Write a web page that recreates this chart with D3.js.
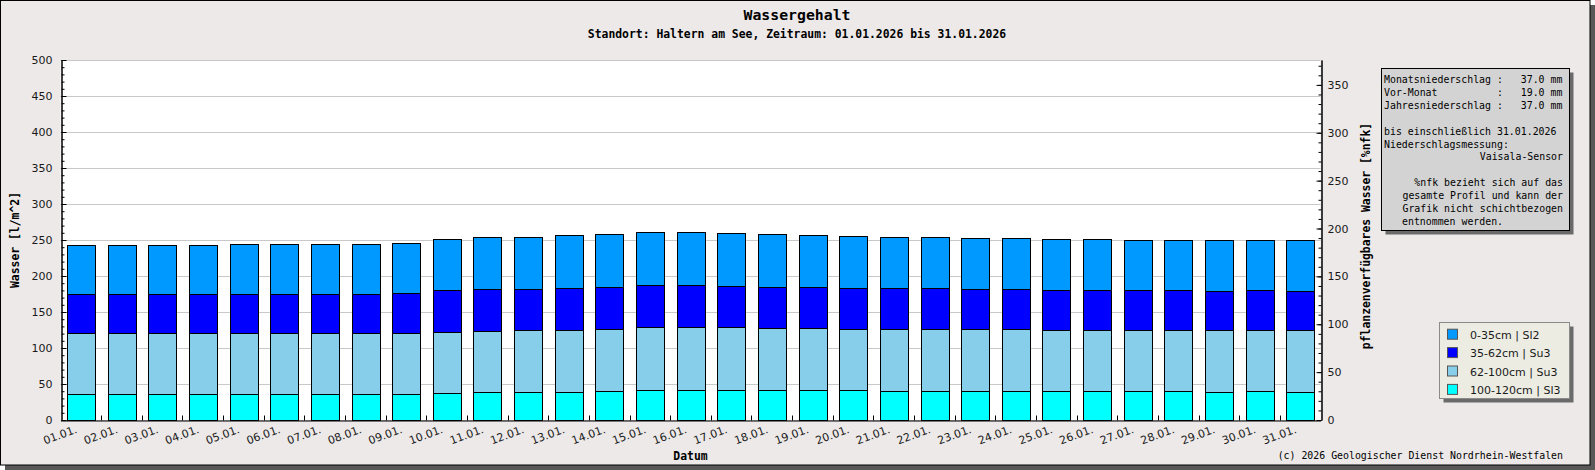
<!DOCTYPE html>
<html>
<head>
<meta charset="utf-8">
<title>Wassergehalt</title>
<script src="https://cdn.jsdelivr.net/npm/d3@7"></script>
<style>
  body { margin: 0; background: #fff; }
  svg { display: block; }
  .mono { font-family: "DejaVu Sans Mono", "Liberation Mono", monospace; white-space: pre; }
  .sans { font-family: "DejaVu Sans", sans-serif; }
</style>
</head>
<body>
<svg id="drawing_region"></svg>
<script>
// Tage (Kategorien)
const days = ['01.01.','02.01.','03.01.','04.01.','05.01.','06.01.','07.01.','08.01.','09.01.','10.01.',
              '11.01.','12.01.','13.01.','14.01.','15.01.','16.01.','17.01.','18.01.','19.01.','20.01.',
              '21.01.','22.01.','23.01.','24.01.','25.01.','26.01.','27.01.','28.01.','29.01.','30.01.','31.01.'];

// Wasser je Schicht [l/m^2]
const layer0_35 = [68.1,68.1,68.1,68.1,69.5,69.5,69.5,69.5,69.4,71.8,72.2,72.2,73.6,73.6,73.6,73.6,
                   73.7,73.6,72.2,72.2,70.8,70.8,70.8,70.8,70.8,70.8,69.4,69.4,70.8,69.4,70.8];
const layer35_62 = [53.2,53.2,53.2,53.2,53.2,53.2,53.2,53.2,54.7,57.4,57.4,56.0,57.4,57.4,57.4,57.4,
                    56.0,56.1,56.1,56.0,56.0,56.0,54.6,54.6,54.6,54.6,54.6,54.6,53.2,54.6,53.2];
const layer62_100 = [85.7,85.7,85.7,85.7,85.7,85.7,85.7,85.7,85.7,85.7,85.7,87.1,87.1,87.1,88.4,88.4,
                     88.4,87.0,87.0,85.7,87.1,87.1,87.1,87.1,85.7,85.7,85.7,85.7,87.1,85.7,87.1];
const layer100_120 = [35.6,35.6,35.6,35.6,35.6,35.6,35.6,35.6,35.6,37.0,38.4,38.4,38.4,39.8,41.2,41.2,
                      41.2,41.2,41.2,41.2,39.8,39.8,39.8,39.8,39.8,39.8,39.8,39.8,38.4,39.8,38.4];

// Legende (von oben nach unten)
const layerNames = ['0-35cm | Sl2', '35-62cm | Su3', '62-100cm | Su3', '100-120cm | Sl3'];
const layerColors = ['#0099ff', '#0000ff', '#87ceeb', '#00ffff'];

// Achsen
const leftTicks = [0, 50, 100, 150, 200, 250, 300, 350, 400, 450, 500];
const rightTicks = [0, 50, 100, 150, 200, 250, 300, 350];
const leftMax = 500;
const rightMax = 376;

// Infobox
const infoLines = [
    ['Monatsniederschlag :   37.0 mm', 'start'],
    ['Vor-Monat          :   19.0 mm', 'start'],
    ['Jahresniederschlag :   37.0 mm', 'start'],
    ['', 'start'],
    ['bis einschließlich 31.01.2026', 'start'],
    ['Niederschlagsmessung:', 'start'],
    ['Vaisala-Sensor', 'end'],
    ['', 'start'],
    ['%nfk bezieht sich auf das', 'end'],
    ['gesamte Profil und kann der', 'end'],
    ['Grafik nicht schichtbezogen', 'end'],
    ['entnommen werden.', 'indent']
];

class StackedChart {

    constructor( config ) {
        this.config = config;
        this.init();
    }

    init() {
        let self = this;
        const c = self.config;

        self.svg = d3.select( c.parent )
            .attr('width', c.width)
            .attr('height', c.height);

        // Rahmen mit Schatten
        self.svg.append('rect')
            .attr('x', 5).attr('y', 5)
            .attr('width', c.width - 5).attr('height', c.height - 5)
            .attr('fill', '#585858');
        self.svg.append('rect')
            .attr('x', 0.5).attr('y', 0.5)
            .attr('width', c.width - 5.5).attr('height', c.height - 5.5)
            .attr('fill', '#ece9e8')
            .attr('stroke', '#000');

        self.left = c.plot.left;
        self.right = c.plot.right;
        self.top = c.plot.top;
        self.bottom = c.plot.bottom;

        self.svg.append('rect')
            .attr('x', self.left).attr('y', self.top)
            .attr('width', self.right - self.left)
            .attr('height', self.bottom - self.top)
            .attr('fill', '#fff');

        self.xscale = d3.scaleBand()
            .domain(days)
            .range([self.left, self.right])
            .paddingInner(0.32)
            .paddingOuter(0.16);

        self.yscale = d3.scaleLinear()
            .domain([0, leftMax])
            .range([self.bottom, self.top]);

        self.y2scale = d3.scaleLinear()
            .domain([0, rightMax])
            .range([self.bottom, self.top]);

        self.grid = self.svg.append('g');
        self.chart = self.svg.append('g');
        self.axes = self.svg.append('g');
        self.texts = self.svg.append('g');
    }

    update() {
        let self = this;
        self.series = d3.stack()
            .keys([3, 2, 1, 0])
            .value((d, k) => d[k])(
                days.map((day, i) => ({ 0: layer0_35[i], 1: layer35_62[i], 2: layer62_100[i], 3: layer100_120[i], day: day }))
            );
        self.render();
    }

    render() {
        let self = this;

        // Gitterlinien
        self.grid.selectAll('line').data(leftTicks).enter()
            .append('line')
            .attr('x1', self.left).attr('x2', self.right)
            .attr('y1', d => Math.round(self.yscale(d)) + 0.5)
            .attr('y2', d => Math.round(self.yscale(d)) + 0.5)
            .attr('stroke', '#c8c8c8');

        // Balken
        self.chart.selectAll('g').data(self.series).enter()
            .append('g')
            .attr('fill', d => layerColors[d.key])
            .selectAll('rect').data(d => d).enter()
            .append('rect')
            .attr('x', d => Math.round(self.xscale(d.data.day)) + 0.5)
            .attr('y', d => Math.round(self.yscale(d[1])) + 0.5)
            .attr('width', Math.round(self.xscale.bandwidth()))
            .attr('height', d => Math.round(self.yscale(d[0])) - Math.round(self.yscale(d[1])))
            .attr('stroke', '#000')
            .attr('stroke-width', 1);

        // linke Achse
        const yaxis = d3.axisLeft(self.yscale)
            .tickValues(leftTicks).tickSize(-5).tickSizeOuter(0).tickPadding(9);
        const yminor = d3.axisLeft(self.yscale)
            .tickValues(d3.range(0, leftMax + 1, 10)).tickSize(-3).tickSizeOuter(0).tickFormat('');
        self.axes.append('g').attr('transform', `translate(${Math.round(self.left) + 0.5},0)`).call(yminor);
        self.axes.append('g').attr('transform', `translate(${Math.round(self.left) + 0.5},0)`).call(yaxis);

        // rechte Achse
        const y2axis = d3.axisRight(self.y2scale)
            .tickValues(rightTicks).tickSize(-5).tickSizeOuter(0).tickPadding(6);
        const y2minor = d3.axisRight(self.y2scale)
            .tickValues(d3.range(0, rightMax, 10)).tickSize(-3).tickSizeOuter(0).tickFormat('');
        self.axes.append('g').attr('transform', `translate(${Math.round(self.right) + 0.5},0)`).call(y2minor);
        self.axes.append('g').attr('transform', `translate(${Math.round(self.right) + 0.5},0)`).call(y2axis);

        // untere Achse
        const xaxis = d3.axisBottom(self.xscale).tickSize(0).tickSizeOuter(0).tickPadding(0);
        const xg = self.axes.append('g')
            .attr('transform', `translate(0,${Math.round(self.bottom) + 0.5})`)
            .call(xaxis);
        xg.selectAll('.tick text')
            .attr('text-anchor', 'end')
            .attr('dy', 0)
            .attr('transform', 'translate(-3,12) rotate(-20)');
        const gap = (self.xscale.step() - self.xscale.bandwidth()) / 2;
        xg.selectAll('.sep').data(days.slice(1)).enter()
            .append('line')
            .attr('x1', d => Math.round(self.xscale(d) - gap) + 0.5)
            .attr('x2', d => Math.round(self.xscale(d) - gap) + 0.5)
            .attr('y1', 0).attr('y2', -5)
            .attr('stroke', '#000');

        self.axes.selectAll('.domain').attr('stroke', '#000');
        self.axes.selectAll('.tick line').attr('stroke', '#000');
        self.axes.selectAll('.tick text')
            .attr('class', 'sans')
            .attr('font-size', '11px')
            .attr('fill', '#1a1a1a');

        // Titel
        self.texts.append('text').attr('class', 'mono')
            .attr('x', 797).attr('y', 20)
            .attr('text-anchor', 'middle')
            .attr('font-size', '14.8px').attr('font-weight', 'bold')
            .text('Wassergehalt');
        self.texts.append('text').attr('class', 'mono')
            .attr('x', 797).attr('y', 38)
            .attr('text-anchor', 'middle')
            .attr('font-size', '11.4px').attr('font-weight', 'bold')
            .text('Standort: Haltern am See, Zeitraum: 01.01.2026 bis 31.01.2026');

        // Achsentitel
        const midY = (self.top + self.bottom) / 2;
        self.texts.append('text').attr('class', 'mono')
            .attr('transform', `translate(19,${midY}) rotate(-90)`)
            .attr('text-anchor', 'middle')
            .attr('font-size', '11.4px').attr('font-weight', 'bold')
            .text('Wasser [l/m^2]');
        self.texts.append('text').attr('class', 'mono')
            .attr('transform', `translate(1370,${midY - 4}) rotate(-90)`)
            .attr('text-anchor', 'middle')
            .attr('font-size', '11.4px').attr('font-weight', 'bold')
            .text('pflanzenverfügbares Wasser [%nfk]');
        self.texts.append('text').attr('class', 'mono')
            .attr('x', (self.left + self.right) / 2).attr('y', 460)
            .attr('text-anchor', 'middle')
            .attr('font-size', '11.4px').attr('font-weight', 'bold')
            .text('Datum');

        // Infobox
        const ib = { x: 1381.5, y: 68.5, w: 188, h: 162 };
        self.texts.append('rect')
            .attr('x', ib.x + 4).attr('y', ib.y + 4).attr('width', ib.w).attr('height', ib.h)
            .attr('fill', '#6a6a6a');
        self.texts.append('rect')
            .attr('x', ib.x).attr('y', ib.y).attr('width', ib.w).attr('height', ib.h)
            .attr('fill', '#d3d3d3').attr('stroke', '#000');
        self.texts.selectAll('.info').data(infoLines).enter()
            .append('text')
            .attr('class', 'mono')
            .attr('x', d => d[1] === 'end' ? 1563 : (d[1] === 'indent' ? 1402 : 1384))
            .attr('y', (d, i) => 83 + i * 12.9)
            .attr('text-anchor', d => d[1] === 'end' ? 'end' : 'start')
            .attr('font-size', '9.9px')
            .attr('fill', '#000')
            .text(d => d[0]);

        // Legende
        const lg = { x: 1439.5, y: 322.5, w: 130, h: 76 };
        self.texts.append('rect')
            .attr('x', lg.x + 4).attr('y', lg.y + 4).attr('width', lg.w).attr('height', lg.h)
            .attr('fill', '#6a6a6a');
        self.texts.append('rect')
            .attr('x', lg.x).attr('y', lg.y).attr('width', lg.w).attr('height', lg.h)
            .attr('fill', '#ececE2').attr('stroke', '#8a8a8a');
        const items = self.texts.selectAll('.leg').data(layerNames).enter()
            .append('g')
            .attr('transform', (d, i) => `translate(0,${334.7 + i * 18.4})`);
        items.append('rect')
            .attr('x', 1447.5).attr('y', -5.5).attr('width', 10).attr('height', 10)
            .attr('fill', (d, i) => layerColors[i])
            .attr('stroke', '#555');
        items.append('text')
            .attr('class', 'sans')
            .attr('x', 1470).attr('y', 4)
            .attr('font-size', '11px')
            .attr('fill', '#1a1a1a')
            .text(d => d);

        // Copyright
        self.texts.append('text').attr('class', 'mono')
            .attr('x', 1563).attr('y', 459)
            .attr('text-anchor', 'end')
            .attr('font-size', '9.9px')
            .text('(c) 2026 Geologischer Dienst Nordrhein-Westfalen');
    }
}

const config = {
    parent: '#drawing_region',
    width: 1595,
    height: 470,
    plot: { left: 60.5, right: 1320.5, top: 60, bottom: 420 }
};

const chart = new StackedChart( config );
chart.update();
</script>
</body>
</html>
